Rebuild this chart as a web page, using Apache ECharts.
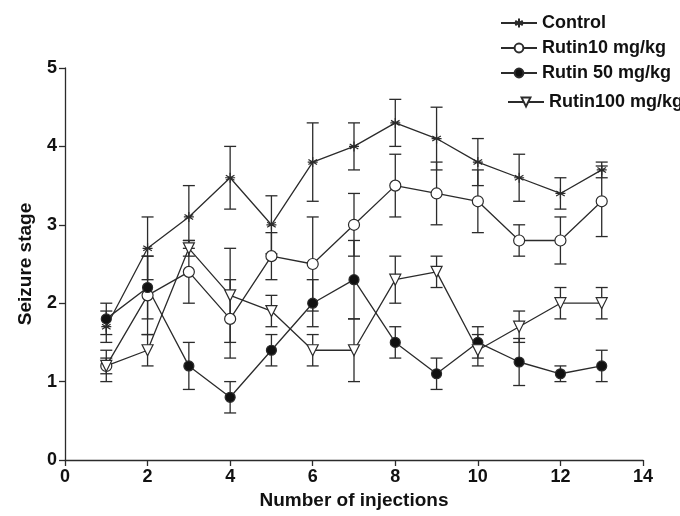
<!DOCTYPE html>
<html>
<head>
<meta charset="utf-8">
<title>Seizure stage</title>
<script src="https://cdn.jsdelivr.net/npm/echarts/dist/echarts.min.js"></script>
<style>
  html, body { margin: 0; padding: 0; background: #fff; }
  #chart { width: 680px; height: 516px; }
</style>
</head>
<body>
<div id="chart"></div>
<script>
// data (mean and error for each injection)
var injections = [1, 2, 3, 4, 5, 6, 7, 8, 9, 10, 11, 12, 13];

var controlMean = [1.7, 2.7, 3.1, 3.6, 3.0, 3.8, 4.0, 4.3, 4.1, 3.8, 3.6, 3.4, 3.7];
var controlErr  = [0.2, 0.4, 0.4, 0.4, 0.37, 0.5, 0.3, 0.3, 0.4, 0.3, 0.3, 0.2, 0.1];

var rutin10Mean = [1.2, 2.1, 2.4, 1.8, 2.6, 2.5, 3.0, 3.5, 3.4, 3.3, 2.8, 2.8, 3.3];
var rutin10Err  = [0.2, 0.5, 0.4, 0.5, 0.3, 0.6, 0.4, 0.4, 0.4, 0.4, 0.2, 0.3, 0.45];

var rutin50Mean = [1.8, 2.2, 1.2, 0.8, 1.4, 2.0, 2.3, 1.5, 1.1, 1.5, 1.25, 1.1, 1.2];
var rutin50Err  = [0.2, 0.4, 0.3, 0.2, 0.2, 0.3, 0.5, 0.2, 0.2, 0.2, 0.3, 0.1, 0.2];

var rutin100Mean = [1.2, 1.4, 2.7, 2.1, 1.9, 1.4, 1.4, 2.3, 2.4, 1.4, 1.7, 2.0, 2.0];
var rutin100Err  = [0.1, 0.2, 0.1, 0.6, 0.2, 0.2, 0.4, 0.3, 0.2, 0.2, 0.2, 0.2, 0.2];

var xTicks = [0, 2, 4, 6, 8, 10, 12, 14];
var yTicks = [0, 1, 2, 3, 4, 5];

var ink = '#2b2b2b';
var font = 'Liberation Sans';

// asterisk marker for Control
var starPath = 'path://M5,0L5,10M0.7,2.5L9.3,7.5M0.7,7.5L9.3,2.5M0,5L10,5';

function pairs(mean){
	var out = [];
	for (var i = 0; i < injections.length; i++) {
		out.push([injections[i], mean[i]]);
	}
	return out;
}

function bars(mean, err){
	var out = [];
	for (var i = 0; i < injections.length; i++) {
		out.push([injections[i], mean[i] - err[i], mean[i] + err[i]]);
	}
	return out;
}

// vertical error bar with caps
function errorBar(params, api){
	var x = api.value(0);
	var lo = api.coord([x, api.value(1)]);
	var hi = api.coord([x, api.value(2)]);
	var w = 6;
	var st = { stroke: ink, lineWidth: 1.3 };
	return {
		type: 'group',
		children: [
			{ type: 'line', shape: { x1: lo[0], y1: lo[1], x2: hi[0], y2: hi[1] }, style: st },
			{ type: 'line', shape: { x1: hi[0] - w, y1: hi[1], x2: hi[0] + w, y2: hi[1] }, style: st },
			{ type: 'line', shape: { x1: lo[0] - w, y1: lo[1], x2: lo[0] + w, y2: lo[1] }, style: st }
		]
	};
}

function errSeries(mean, err){
	return {
		type: 'custom',
		renderItem: errorBar,
		encode: { x: 0, y: [1, 2] },
		data: bars(mean, err),
		z: 1,
		silent: true
	};
}

function lineSeries(name, mean, symbol, fill, extra){
	var s = {
		name: name,
		type: 'line',
		data: pairs(mean),
		symbol: symbol,
		symbolSize: 11,
		z: 3,
		lineStyle: { color: ink, width: 1.3 },
		itemStyle: { color: fill, borderColor: ink, borderWidth: 1.2 }
	};
	if (extra) {
		for (var k in extra) s[k] = extra[k];
	}
	return s;
}

var myChart = echarts.init(document.getElementById('chart'));

var legendText = { fontFamily: font, fontWeight: 'bold', fontSize: 18, color: '#111' };

option = {
	backgroundColor: '#fff',
	animation: false,
	grid: {
		left: 65,
		right: 37,
		top: 68,
		bottom: 56,
		containLabel: false,
		outerBoundsMode: 'none'
	},
	legend: [{
		data: ['Control', 'Rutin10 mg/kg', 'Rutin 50 mg/kg'],
		orient: 'vertical',
		left: 495,
		top: 9,
		itemWidth: 36,
		itemHeight: 11,
		itemGap: 7,
		textStyle: legendText,
		selectedMode: false
	}, {
		data: ['Rutin100 mg/kg'],
		orient: 'vertical',
		left: 502,
		top: 88,
		itemWidth: 36,
		itemHeight: 11,
		textStyle: legendText,
		selectedMode: false
	}],
	xAxis: {
		type: 'value',
		min: 0,
		max: 14,
		interval: 2,
		name: 'Number of injections',
		nameLocation: 'middle',
		nameGap: 27,
		nameTextStyle: { fontFamily: font, fontWeight: 'bold', fontSize: 19, color: '#111' },
		axisLine: { lineStyle: { color: ink, width: 1.3 } },
		axisTick: { length: 6, lineStyle: { color: ink, width: 1.3 } },
		axisLabel: {
			fontFamily: font, fontWeight: 'bold', fontSize: 18, color: '#111', margin: 8,
			formatter: function(v){ return xTicks.indexOf(v) >= 0 ? String(v) : ''; }
		},
		splitLine: { show: false }
	},
	yAxis: {
		type: 'value',
		min: 0,
		max: 5,
		interval: 1,
		name: 'Seizure stage',
		nameLocation: 'middle',
		nameGap: 30,
		nameTextStyle: { fontFamily: font, fontWeight: 'bold', fontSize: 19, color: '#111' },
		axisLine: { show: true, lineStyle: { color: ink, width: 1.3 } },
		axisTick: { show: true, length: 6, lineStyle: { color: ink, width: 1.3 } },
		axisLabel: {
			fontFamily: font, fontWeight: 'bold', fontSize: 18, color: '#111', margin: 8,
			formatter: function(v){ return yTicks.indexOf(v) >= 0 ? String(v) : ''; }
		},
		splitLine: { show: false }
	},
	series: [
		errSeries(controlMean, controlErr),
		errSeries(rutin10Mean, rutin10Err),
		errSeries(rutin50Mean, rutin50Err),
		errSeries(rutin100Mean, rutin100Err),
		lineSeries('Control', controlMean, starPath, 'none', { symbolSize: 10 }),
		lineSeries('Rutin10 mg/kg', rutin10Mean, 'circle', '#fff'),
		lineSeries('Rutin 50 mg/kg', rutin50Mean, 'circle', '#111', { symbolSize: 10 }),
		lineSeries('Rutin100 mg/kg', rutin100Mean, 'triangle', '#fff', { symbolRotate: 180 })
	]
};

myChart.setOption(option);
</script>
</body>
</html>
